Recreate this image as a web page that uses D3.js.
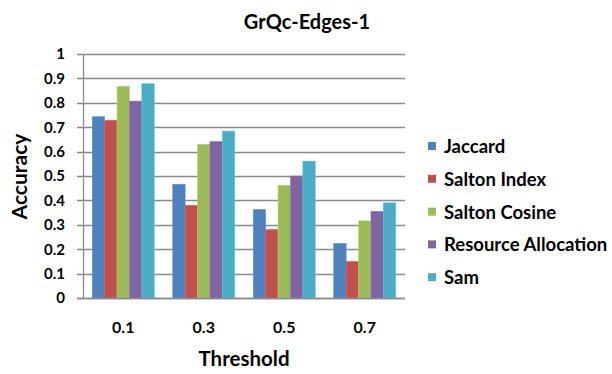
<!DOCTYPE html>
<html>
<head>
<meta charset="utf-8">
<script src="https://cdn.jsdelivr.net/npm/d3@7"></script>
<style>
  body { margin: 0; background: #fff; }
  svg text { font-family: Lato, "Open Sans", sans-serif; font-weight: bold; fill: #000; }
</style>
</head>
<body>
<div id="chart"></div>
<script>
// data
const thresholds = ["0.1", "0.3", "0.5", "0.7"];
const seriesNames = ["Jaccard", "Salton Index", "Salton Cosine", "Resource Allocation", "Sam"];
const seriesColors = ["#4F81BD", "#C0504D", "#9BBB59", "#8064A2", "#4BACC6"];
const jaccard = [0.743, 0.466, 0.363, 0.224];
const saltonIndex = [0.728, 0.380, 0.280, 0.150];
const saltonCosine = [0.868, 0.630, 0.462, 0.316];
const resourceAlloc = [0.807, 0.641, 0.500, 0.355];
const sam = [0.878, 0.684, 0.561, 0.390];
const yTicks = [0, 0.1, 0.2, 0.3, 0.4, 0.5, 0.6, 0.7, 0.8, 0.9, 1];

const allSeries = [jaccard, saltonIndex, saltonCosine, resourceAlloc, sam];

const width = 612, height = 374;
const margin = {top: 54, right: 207, bottom: 76, left: 83};
const w = width - margin.left - margin.right;
const h = height - margin.top - margin.bottom;

const svg = d3.select("#chart").append("svg")
    .attr("width", width)
    .attr("height", height);

const g = svg.append("g")
    .attr("transform", `translate(${margin.left},${margin.top})`);

// scales
const x0 = d3.scaleBand().domain(thresholds).range([0, w]).paddingInner(0.23).paddingOuter(0.115);
const x1 = d3.scaleBand().domain(seriesNames).range([0, x0.bandwidth()]);
const y = d3.scaleLinear().domain([0, 1]).range([h, 0]);

// gridlines (with the little tick stubs left of the axis)
g.append("g")
    .selectAll("line")
    .data(yTicks)
    .join("line")
    .attr("x1", -6)
    .attr("x2", w)
    .attr("y1", d => Math.round(y(d)) + 0.5)
    .attr("y2", d => Math.round(y(d)) + 0.5)
    .attr("stroke", "#8a8a8a")
    .attr("stroke-width", 1.3);

// y axis
const yAxis = g.append("g")
    .call(d3.axisLeft(y).tickValues(yTicks).tickFormat(d3.format("")).tickSize(0).tickPadding(18));
yAxis.select(".domain").attr("stroke", "#8a8a8a").attr("stroke-width", 1.3);
yAxis.selectAll("text").attr("font-size", "15px").attr("font-family", "Lato, sans-serif").attr("font-weight", "bold");

// bars
const groups = g.append("g")
    .selectAll("g")
    .data(thresholds)
    .join("g")
    .attr("transform", d => `translate(${x0(d)},0)`);

groups.selectAll("rect")
    .data((d, i) => seriesNames.map((s, j) => ({name: s, value: allSeries[j][i], color: seriesColors[j]})))
    .join("rect")
    .attr("x", d => x1(d.name))
    .attr("width", x1.bandwidth())
    .attr("y", d => y(d.value))
    .attr("height", d => h - y(d.value))
    .attr("fill", d => d.color)
    .attr("stroke", d => d3.color(d.color).brighter(0.4))
    .attr("stroke-width", 0.6);

// x axis
const xAxis = g.append("g")
    .attr("transform", `translate(0,${h})`)
    .call(d3.axisBottom(x0).tickSize(0).tickPadding(23.5));
xAxis.select(".domain").attr("stroke", "#8a8a8a").attr("stroke-width", 1.3).attr("d", `M-6,0.5H${w}`);
xAxis.selectAll("text").attr("font-size", "16px").attr("font-family", "Lato, sans-serif").attr("font-weight", "bold");

// title, centred over the whole chart area
svg.append("text")
    .attr("x", 307)
    .attr("y", 29)
    .attr("text-anchor", "middle")
    .attr("font-size", "20px")
    .text("GrQc-Edges-1");

// axis titles
svg.append("text")
    .attr("x", margin.left + w / 2)
    .attr("y", 366)
    .attr("text-anchor", "middle")
    .attr("font-size", "20.5px")
    .text("Threshold");

svg.append("text")
    .attr("transform", "translate(27,176.5) rotate(-90)")
    .attr("text-anchor", "middle")
    .attr("font-size", "21px")
    .text("Accuracy");

// legend
const legend = svg.append("g")
    .attr("transform", "translate(428,153)");

const items = legend.selectAll("g")
    .data(seriesNames)
    .join("g")
    .attr("transform", (d, i) => `translate(0,${i * 32.8})`);

items.append("rect")
    .attr("x", 0)
    .attr("y", -11)
    .attr("width", 8)
    .attr("height", 8)
    .attr("fill", (d, i) => seriesColors[i]);

items.append("text")
    .attr("x", 16)
    .attr("y", 0)
    .attr("font-size", "18.5px")
    .text(d => d);
</script>
</body>
</html>
